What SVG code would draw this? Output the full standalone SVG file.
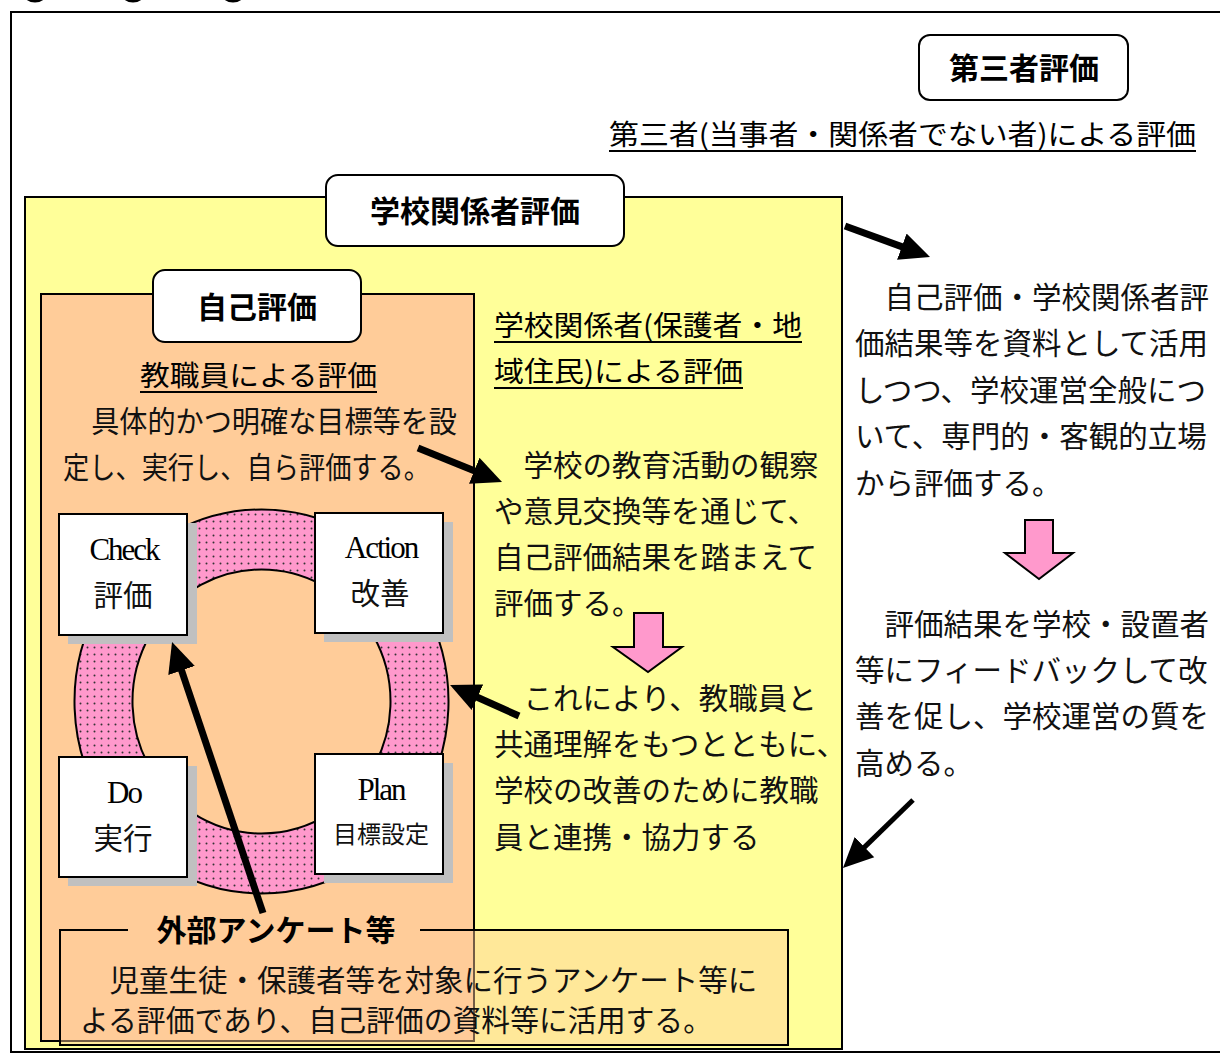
<svg xmlns="http://www.w3.org/2000/svg" width="1220" height="1057" viewBox="0 0 1220 1057">
<style>
.t{font-family:"Noto Sans CJK JP","Liberation Sans",sans-serif;font-size:29.5px;fill:#111}
.b{font-family:"Noto Sans CJK JP","Liberation Sans",sans-serif;font-weight:bold;font-size:30px;fill:#000}
.h{font-family:"Noto Sans CJK JP","Liberation Sans",sans-serif;font-size:28px;fill:#000}
.e{font-family:"Liberation Serif","Noto Sans CJK JP",serif;font-size:31px;letter-spacing:-2px;fill:#000}
.card{fill:#fff;stroke:#000;stroke-width:2}
.shadow{fill:#c0c0c0}
.tag{fill:#fff;stroke:#000;stroke-width:2}
.ul{stroke:#000;stroke-width:2}
.arr{stroke:#000;stroke-width:7;fill:none;marker-end:url(#ah)}
.pink{fill:#ff99cc;stroke:#000;stroke-width:2;stroke-linejoin:miter}
</style>
<defs>
<pattern id="dots" width="7" height="7" patternUnits="userSpaceOnUse">
<rect width="7" height="7" fill="#ff99cc"/>
<circle cx="3.5" cy="3.5" r="1" fill="#333"/>
</pattern>
<marker id="ah" viewBox="0 0 30 30" refX="10" refY="15" markerWidth="30" markerHeight="30" markerUnits="userSpaceOnUse" orient="auto">
<path d="M0,1 L30,15 L0,29 z" fill="#000"/>
</marker>
</defs>
<rect width="1220" height="1057" fill="#fff"/>
<g id="top-fragments" fill="none" stroke="#000" stroke-width="3">
<circle cx="35" cy="-12" r="13"/>
<circle cx="133" cy="-12" r="13"/>
<circle cx="233" cy="-12" r="13"/>
</g>
<rect id="frame" x="11" y="12" width="1230" height="1040" fill="none" stroke="#000" stroke-width="2"/>

<g id="third-party">
<rect class="tag" x="919" y="35" width="209" height="65" rx="11"/>
<text class="b" x="1024" y="79" text-anchor="middle">第三者評価</text>
<text class="h" x="609" y="145" textLength="587" lengthAdjust="spacingAndGlyphs">第三者(当事者・関係者でない者)による評価</text>
<line class="ul" x1="609" y1="151" x2="1196" y2="151"/>
</g>

<g id="school-stakeholder">
<rect x="25" y="197" width="817" height="852" fill="#ffff99" stroke="#000" stroke-width="2"/>
<rect class="tag" x="326" y="175" width="298" height="71" rx="12"/>
<text class="b" x="475" y="222" text-anchor="middle">学校関係者評価</text>
<text class="h" x="494" y="336" textLength="308" lengthAdjust="spacingAndGlyphs">学校関係者(保護者・地</text>
<line class="ul" x1="494" y1="342" x2="802" y2="342"/>
<text class="h" x="494" y="382" textLength="249" lengthAdjust="spacingAndGlyphs">域住民)による評価</text>
<line class="ul" x1="494" y1="388" x2="743" y2="388"/>
<text class="t" x="494" y="476">　学校の教育活動の観察</text>
<text class="t" x="494" y="522">や意見交換等を通じて、</text>
<text class="t" x="494" y="568">自己評価結果を踏まえて</text>
<text class="t" x="494" y="614">評価する。</text>
<path class="pink" d="M634,613 H663 V647 H682 L648,672 L613,647 H634 Z"/>
<text class="t" x="494" y="709">　これにより、教職員と</text>
<text class="t" x="494" y="755">共通理解をもつとともに、</text>
<text class="t" x="494" y="801">学校の改善のために教職</text>
<text class="t" x="494" y="848">員と連携・協力する</text>
</g>

<g id="self-eval">
<rect x="41" y="294" width="433" height="747" fill="#ffcc99" stroke="#000" stroke-width="2"/>
<rect class="tag" x="153" y="270" width="208" height="72" rx="12"/>
<text class="b" x="257" y="318" text-anchor="middle">自己評価</text>
<text class="h" x="140" y="386" textLength="237" lengthAdjust="spacingAndGlyphs">教職員による評価</text>
<line class="ul" x1="140" y1="392" x2="377" y2="392"/>
<text class="t" x="63" y="432" textLength="394" lengthAdjust="spacingAndGlyphs">　具体的かつ明確な目標等を設</text>
<text class="t" x="63" y="478" textLength="367" lengthAdjust="spacingAndGlyphs">定し、実行し、自ら評価する。</text>
</g>

<g id="pdca-ring">
<path d="M261.5,509.5 a187,192 0 1,0 0.01,0 z M261.5,569.5 a129,132 0 1,1 -0.01,0 z" fill="url(#dots)" fill-rule="evenodd" stroke="#000" stroke-width="2"/>
</g>

<g id="check">
<rect class="shadow" x="68" y="523" width="129" height="121"/>
<rect class="card" x="59" y="514" width="128" height="121"/>
<text class="e" x="124" y="560" text-anchor="middle">Check</text>
<text class="t" x="123" y="606" text-anchor="middle">評価</text>
</g>
<g id="action">
<rect class="shadow" x="324" y="522" width="129" height="120"/>
<rect class="card" x="315" y="513" width="128" height="120"/>
<text class="e" x="381" y="558" text-anchor="middle">Action</text>
<text class="t" x="380" y="604" text-anchor="middle">改善</text>
</g>
<g id="do">
<rect class="shadow" x="68" y="766" width="129" height="120"/>
<rect class="card" x="59" y="757" width="128" height="120"/>
<text class="e" x="124" y="803" text-anchor="middle">Do</text>
<text class="t" x="123" y="849" text-anchor="middle">実行</text>
</g>
<g id="plan">
<rect class="shadow" x="324" y="763" width="129" height="120"/>
<rect class="card" x="315" y="754" width="128" height="120"/>
<text class="e" x="381" y="800" text-anchor="middle">Plan</text>
<text class="t" x="381" y="843" text-anchor="middle" style="font-size:24px">目標設定</text>
</g>

<g id="survey">
<rect x="60" y="930" width="728" height="115" fill="#ffcc99" fill-opacity="0.45"/>
<path d="M128,930 H60 V1045 H788 V930 H420" fill="none" stroke="#000" stroke-width="2"/>
<text class="b" x="276" y="941" text-anchor="middle">外部アンケート等</text>
<text class="t" x="80" y="991">　児童生徒・保護者等を対象に行うアンケート等に</text>
<text class="t" x="80" y="1031" textLength="632" lengthAdjust="spacingAndGlyphs">よる評価であり、自己評価の資料等に活用する。</text>
</g>

<g id="third-party-desc">
<text class="t" x="855" y="308">　自己評価・学校関係者評</text>
<text class="t" x="855" y="354">価結果等を資料として活用</text>
<text class="t" x="855" y="401">しつつ、学校運営全般につ</text>
<text class="t" x="855" y="447">いて、専門的・客観的立場</text>
<text class="t" x="855" y="494">から評価する。</text>
<path class="pink" d="M1025,520 H1053 V553 H1073 L1039,579 L1005,553 H1025 Z"/>
<text class="t" x="855" y="635">　評価結果を学校・設置者</text>
<text class="t" x="855" y="681">等にフィードバックして改</text>
<text class="t" x="855" y="727">善を促し、学校運営の質を</text>
<text class="t" x="855" y="774">高める。</text>
</g>

<g id="connectors">
<line class="arr" x1="845" y1="226" x2="911.2" y2="250.1"/>
<line class="arr" x1="418" y1="448" x2="483.5" y2="474.5"/>
<line class="arr" x1="519" y1="716" x2="468.3" y2="693.2"/>
<line class="arr" x1="263" y1="913" x2="178.4" y2="661"/>
<line class="arr" x1="913" y1="800" x2="857.3" y2="854.1" style="stroke-width:5"/>
</g>
</svg>
